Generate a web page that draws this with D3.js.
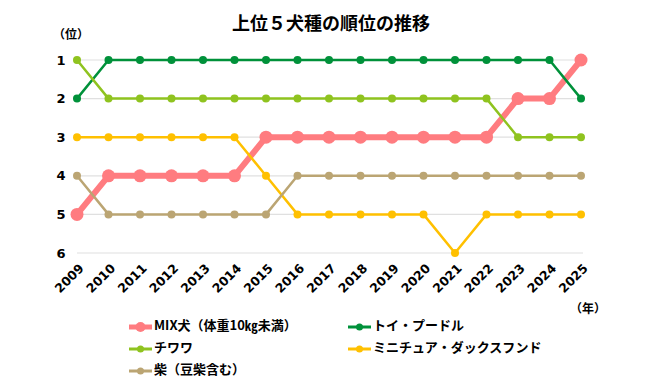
<!DOCTYPE html>
<html>
<head>
<meta charset="utf-8">
<script src="https://cdn.jsdelivr.net/npm/d3@7"></script>
<style>
  body { margin: 0; background: #fff; }
  text { font-family: "Noto Sans CJK JP", "Noto Sans", sans-serif; font-weight: bold; fill: #000; }
  .num text { font-family: "DejaVu Sans", sans-serif; }
</style>
</head>
<body>
<svg id="chart"></svg>
<script>
var width = 660;
var height = 390;

// data
var years = [2009, 2010, 2011, 2012, 2013, 2014, 2015, 2016, 2017, 2018, 2019, 2020, 2021, 2022, 2023, 2024, 2025];
var ranks = [1, 2, 3, 4, 5, 6];
var seriesNames = ["MIX犬（体重10㎏未満）", "トイ・プードル", "チワワ", "ミニチュア・ダックスフンド", "柴（豆柴含む）"];
var mixRank = [5, 4, 4, 4, 4, 4, 3, 3, 3, 3, 3, 3, 3, 3, 2, 2, 1];
var poodleRank = [2, 1, 1, 1, 1, 1, 1, 1, 1, 1, 1, 1, 1, 1, 1, 1, 2];
var chihuahuaRank = [1, 2, 2, 2, 2, 2, 2, 2, 2, 2, 2, 2, 2, 2, 3, 3, 3];
var dachshundRank = [3, 3, 3, 3, 3, 3, 4, 5, 5, 5, 5, 5, 6, 5, 5, 5, 5];
var shibaRank = [4, 5, 5, 5, 5, 5, 5, 4, 4, 4, 4, 4, 4, 4, 4, 4, 4];
var seriesColors = ["#FF7C80", "#00913A", "#8FC31F", "#FFC000", "#BBA573"];

var series = [mixRank, poodleRank, chihuahuaRank, dachshundRank, shibaRank].map(function(v, i) {
	return { name: seriesNames[i], values: v, color: seriesColors[i], wide: i == 0 };
});

var svg = d3.select("#chart").attr("width", width).attr("height", height);

var x = d3.scalePoint().domain(years).range([77, 581]);
var y = d3.scaleLinear().domain([1, 6]).range([60, 253]);

// title
svg.append("text")
	.attr("x", 331).attr("y", 30)
	.attr("text-anchor", "middle")
	.style("font-size", "18px")
	.text("上位５犬種の順位の推移");

svg.append("text")
	.attr("x", 53).attr("y", 39)
	.style("font-size", "12px")
	.text("（位）");

// gridlines
svg.append("g").selectAll("line")
	.data(ranks)
	.enter().append("line")
	.attr("x1", 77).attr("x2", 583)
	.attr("y1", function(d) { return y(d); })
	.attr("y2", function(d) { return y(d); })
	.attr("stroke", "#e0e0e0")
	.attr("stroke-width", 1.2);

// y axis labels
var yAxis = svg.append("g")
	.attr("class", "num")
	.attr("transform", "translate(66,0)")
	.call(d3.axisLeft(y).tickValues(ranks).tickSize(0).tickPadding(0).tickFormat(d3.format("d")));
yAxis.select(".domain").remove();
yAxis.selectAll("text")
	.style("font-size", "13px")
	.attr("text-anchor", "middle")
	.attr("x", -5);

// x axis labels
var xAxis = svg.append("g")
	.attr("class", "num")
	.attr("transform", "translate(0,266)")
	.call(d3.axisBottom(x).tickSize(0).tickPadding(0));
xAxis.select(".domain").remove();
xAxis.selectAll("text")
	.style("font-size", "12.5px")
	.attr("text-anchor", "end")
	.attr("dy", "0.35em")
	.attr("transform", "translate(4,0) rotate(-45)");

svg.append("text")
	.attr("x", 570).attr("y", 313)
	.style("font-size", "12px")
	.text("（年）");

// lines
var line = d3.line()
	.x(function(d, i) { return x(years[i]); })
	.y(function(d) { return y(d); });

var groups = svg.append("g").selectAll("g")
	.data(series)
	.enter().append("g");

groups.append("path")
	.attr("d", function(d) { return line(d.values); })
	.attr("fill", "none")
	.attr("stroke", function(d) { return d.color; })
	.attr("stroke-width", function(d) { return d.wide ? 6 : 2.5; })
	.attr("stroke-linejoin", "round");

groups.selectAll("circle")
	.data(function(d) { return d.values.map(function(v, i) { return { v: v, i: i, s: d }; }); })
	.enter().append("circle")
	.attr("cx", function(d) { return x(years[d.i]); })
	.attr("cy", function(d) { return y(d.v); })
	.attr("r", function(d) { return d.s.wide ? 6.5 : 4; })
	.attr("fill", function(d) { return d.s.color; });

// legend
var legendPos = [[129, 325], [348, 325], [129, 347], [348, 347], [129, 369]];
var legend = svg.append("g").selectAll("g")
	.data(series)
	.enter().append("g")
	.attr("transform", function(d, i) { return "translate(" + legendPos[i][0] + "," + legendPos[i][1] + ")"; });

legend.append("line")
	.attr("x1", 0).attr("x2", 23)
	.attr("y1", 2).attr("y2", 2)
	.attr("stroke", function(d) { return d.color; })
	.attr("stroke-width", function(d) { return d.wide ? 5 : 3; });
legend.append("circle")
	.attr("cx", 11.5).attr("cy", 2)
	.attr("r", function(d) { return d.wide ? 5 : 3.5; })
	.attr("fill", function(d) { return d.color; });
legend.append("text")
	.attr("x", 25).attr("y", 0)
	.attr("dy", "0.35em")
	.style("font-size", "13px")
	.text(function(d) { return d.name; });
</script>
</body>
</html>
